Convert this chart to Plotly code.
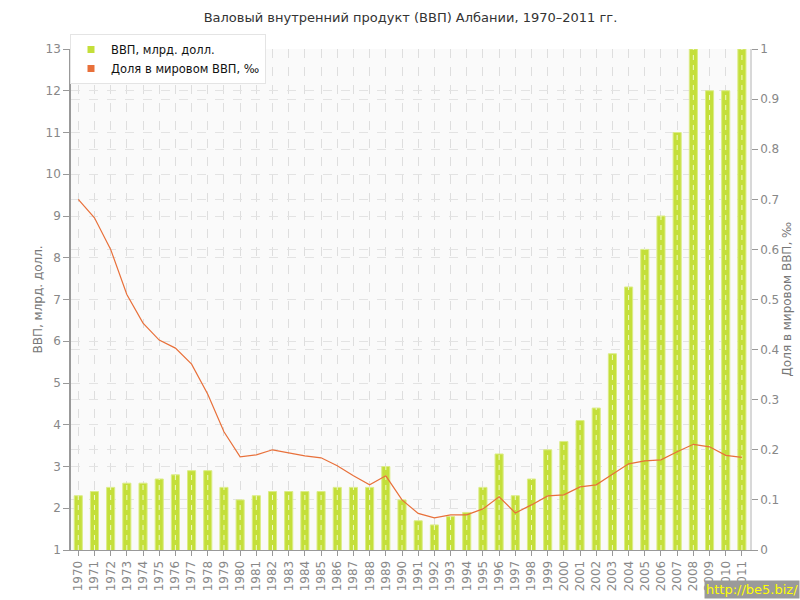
import plotly.graph_objects as go

years = [str(y) for y in range(1970, 2012)]
gdp_bln_usd = [2.3, 2.4, 2.5, 2.6, 2.6, 2.7, 2.8, 2.9, 2.9, 2.5,
               2.2, 2.3, 2.4, 2.4, 2.4, 2.4, 2.5, 2.5, 2.5, 3.0,
               2.2, 1.7, 1.6, 1.8, 1.9, 2.5, 3.3, 2.3, 2.7, 3.4,
               3.6, 4.1, 4.4, 5.7, 7.3, 8.2, 9.0, 11.0, 13.0, 12.0,
               12.0, 13.0]
world_share_permille = [0.700, 0.663, 0.600, 0.510, 0.453, 0.419, 0.403, 0.371, 0.311, 0.236,
                        0.186, 0.190, 0.200, 0.194, 0.188, 0.184, 0.168, 0.148, 0.130, 0.148,
                        0.100, 0.073, 0.064, 0.070, 0.070, 0.082, 0.106, 0.074, 0.090, 0.108,
                        0.110, 0.126, 0.130, 0.151, 0.172, 0.178, 0.180, 0.196, 0.211, 0.206,
                        0.189, 0.185]

title_text = "Валовый внутренний продукт (ВВП) Албании, 1970–2011 гг."
bar_name = "ВВП, млрд. долл."
line_name = "Доля в мировом ВВП, ‰"
left_title = "ВВП, млрд. долл."
right_title = "Доля в мировом ВВП, ‰"

GREEN = "#c4df3a"
ORANGE = "#e8703a"
FONT = "DejaVu Sans"

# plot area in pixels
L, R, T, B = 71, 50, 49, 50
PW, PH = 800 - L - R, 600 - T - B

fig = go.Figure()

fig.add_trace(go.Bar(
    x=years, y=gdp_bln_usd, name=bar_name, width=0.5,
    marker=dict(color=GREEN, line=dict(color="#dbec86", width=1)),
    showlegend=False, yaxis="y",
))

# white dashed grid overlay on the bars
ox, oy = [], []
for yr, v in zip(years, gdp_bln_usd):
    ox += [yr, yr, None]
    oy += [1, v, None]
fig.add_trace(go.Scatter(
    x=ox, y=oy, mode="lines", line=dict(color="rgba(255,255,255,0.75)", width=1, dash="5px,5px"),
    showlegend=False, hoverinfo="skip", yaxis="y",
))

fig.add_trace(go.Scatter(
    x=years, y=world_share_permille, name=line_name, mode="lines",
    line=dict(color=ORANGE, width=1.2), showlegend=False, yaxis="y2",
))

# legend entries with square markers
fig.add_trace(go.Scatter(x=[None], y=[None], mode="markers", name=bar_name,
                         marker=dict(symbol="square", size=7, color=GREEN)))
fig.add_trace(go.Scatter(x=[None], y=[None], mode="markers", name=line_name,
                         marker=dict(symbol="square", size=7, color=ORANGE)))

fig.update_layout(
    width=800, height=600,
    margin=dict(l=L, r=R, t=T, b=B, autoexpand=False),
    paper_bgcolor="white",
    plot_bgcolor="#fafafa",
    font=dict(family=FONT, color="#888", size=11),
    title=dict(text=title_text, x=0.5, xref="paper", xanchor="center",
               yref="container", y=1 - 17 / 600, yanchor="middle",
               font=dict(family=FONT, size=13, color="#333")),
    bargap=0.5,
    showlegend=True,
    legend=dict(x=(70 - L) / PW, y=1 + (T - 34) / PH, xanchor="left", yanchor="top",
                bgcolor="white", bordercolor="#e4e4e4", borderwidth=1,
                font=dict(family=FONT, size=11.5, color="#111"),
                itemwidth=30, tracegroupgap=0),
    xaxis=dict(
        type="category", range=[-0.45, 41.5], automargin=False, dtick=1,
        tickangle=-90, tickfont=dict(size=12, color="#888"),
        showgrid=True, gridcolor="#dedede", griddash="dash", gridwidth=1,
        ticks="outside", ticklen=5, tickcolor="#999",
        showline=True, linecolor="#999", linewidth=1,
    ),
    yaxis=dict(
        range=[1, 13], dtick=1, tick0=1, automargin=False,
        showgrid=True, gridcolor="#e3e3e3", griddash="dash",
        ticks="outside", ticklen=6, tickcolor="#999",
        showline=True, linecolor="#999", linewidth=1.5,
        zeroline=False, tickfont=dict(size=12, color="#888"),
    ),
    yaxis2=dict(
        range=[0, 1], dtick=0.1, overlaying="y", side="right", automargin=False,
        showgrid=True, gridcolor="#e3e3e3", griddash="dash",
        ticks="outside", ticklen=6, tickcolor="#999",
        showline=True, linecolor="#d8d8d8", linewidth=1.5,
        zeroline=False, tickfont=dict(size=12, color="#888"),
    ),
)

# axis titles
fig.add_annotation(text=left_title, xref="paper", yref="paper",
                   x=(37 - L) / PW, y=0.5, textangle=-90, showarrow=False,
                   xanchor="center", yanchor="middle",
                   font=dict(family=FONT, size=12, color="#777"))
fig.add_annotation(text=right_title, xref="paper", yref="paper",
                   x=(786 - L) / PW, y=0.5, textangle=-90, showarrow=False,
                   xanchor="center", yanchor="middle",
                   font=dict(family=FONT, size=12, color="#777"))

fig.add_annotation(
    text="http://be5.biz/", xref="paper", yref="paper",
    x=(800 - L) / PW, y=-(B - 1) / PH, xanchor="right", yanchor="bottom",
    showarrow=False, bgcolor="#9a9a9a", borderpad=1,
    font=dict(family=FONT, size=13, color="#ffff00"),
)

fig.write_html("out.html", config={"displayModeBar": False},
               post_script="document.body.style.margin='0';document.body.style.overflow='hidden';")
